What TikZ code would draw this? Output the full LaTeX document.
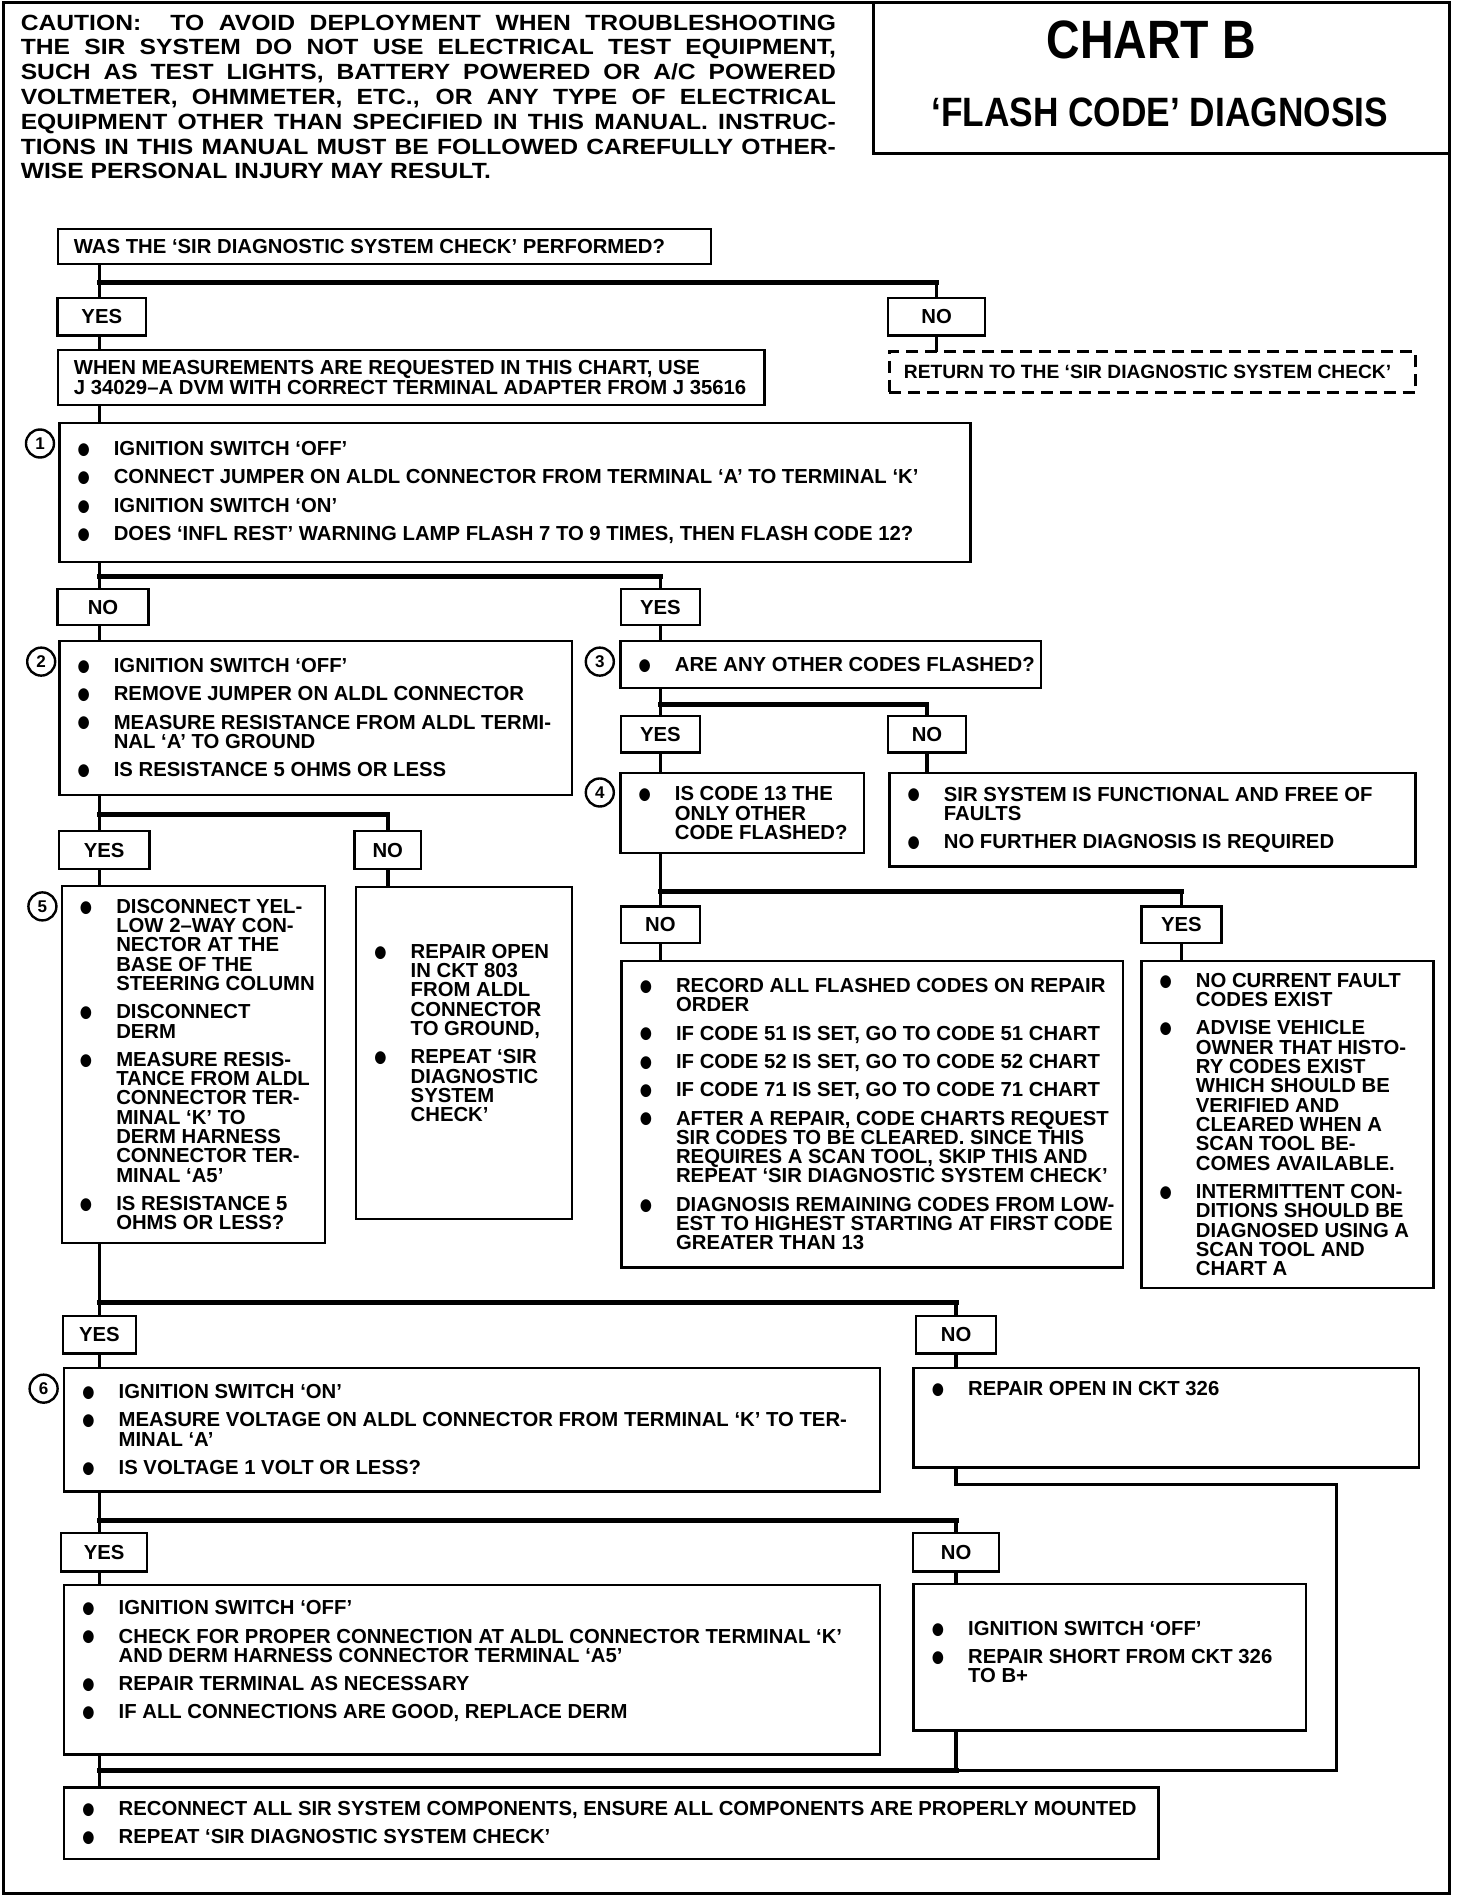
\documentclass[tikz,border=0pt]{standalone}
\usepackage{fontspec}
\setmainfont{Liberation Sans}
\newfontfamily\cautionfont{Liberation Sans}[FakeStretch=1.12]
\newfontfamily\titlefont{Liberation Sans}[FakeStretch=0.86]
\newfontfamily\symfont{DejaVu Sans}

\newcommand\boxfont{\bfseries\fontsize{20.3}{19.3}\selectfont}
\newcommand\blt{\raisebox{1.2pt}{\symfont\fontsize{14}{14}\selectfont\scalebox{1}[1.2]{●}}}
\newcommand\lnb{\unskip\hfil\break}
% a box of bullet items: one paragraph, all lines hang under the text
\newif\ifmoreitems
\newcommand\steps[2][0pt]{\moreitemsfalse
  \leftskip=12.1pt\rightskip=-20pt plus 1fil\relax
  \hangindent=36.3pt\hangafter=0\relax
  #2\rule[-#1]{0pt}{#1}\par}
\newcommand\itm{\leavevmode\ifmoreitems\unskip\vadjust{\vskip 9pt}\hfil\break\fi
  \moreitemstrue\llap{\makebox[36.3pt][l]{\blt}}\ignorespaces}

\begin{document}
\begin{tikzpicture}[x=1.2115pt, y=-1.2115pt,
  frameline/.style={line width=3pt},
  vline/.style={line width=3.6pt, line cap=rect},
  busline/.style={line width=5pt, line cap=rect},
  boxline/.style={draw, line width=2.4pt, anchor=north west, inner xsep=6.06pt,
    inner ysep=0pt, align=flush left, font=\boxfont},
  stepbox/.code 2 args={%
    \pgfmathsetlengthmacro\stepw{(#1-10)*1.2115pt}%
    \pgfmathsetlengthmacro\steph{#2*1.2115pt}%
    \pgfkeysalso{boxline, text width/.expanded=\stepw, minimum height/.expanded=\steph}},
  lbl/.style 2 args={draw, line width=2.4pt, anchor=north, inner sep=0pt,
    minimum width=#1*1.2115pt, minimum height=#2*1.2115pt, font=\boxfont},
  num/.style={circle, draw, line width=2.4pt, minimum size=28pt, inner sep=0pt,
    font=\bfseries\fontsize{17}{17}\selectfont}]

  \useasboundingbox (0,0) rectangle (1215,1568);

  % frame and title block
  \draw[frameline] (3,2) rectangle (1196,1563);
  \draw[frameline] (721,2) |- (1196,127);
  \node[anchor=north west, inner sep=0pt, text width=815pt, align=justify,
    font=\cautionfont\bfseries\fontsize{22}{24.8}\selectfont] (caution) at (17,12)
    {\hyphenpenalty=10000\tolerance=10000\hbadness=10000
     CAUTION:\ \ TO AVOID DEPLOYMENT WHEN TROUBLESHOOTING\linebreak
     THE SIR SYSTEM DO NOT USE ELECTRICAL TEST EQUIPMENT,\linebreak
     SUCH AS TEST LIGHTS, BATTERY POWERED OR A/C POWERED\linebreak
     VOLTMETER, OHMMETER, ETC., OR ANY TYPE OF ELECTRICAL\linebreak
     EQUIPMENT OTHER THAN SPECIFIED IN THIS MANUAL. INSTRUC-\linebreak
     TIONS IN THIS MANUAL MUST BE FOLLOWED CAREFULLY OTHER-\linebreak
     WISE PERSONAL INJURY MAY RESULT.\par};
  \node[inner sep=0pt, font=\titlefont\bfseries\fontsize{54}{54}\selectfont]
    (chart) at (950,33) {CHART B};
  \node[inner sep=0pt, font=\titlefont\bfseries\fontsize{41}{41}\selectfont]
    (title) at (957,93) {‘FLASH CODE’ DIAGNOSIS};

  % question and YES/NO labels
  \node[stepbox={539}{29}] (q0) at (47,188)
    {\leftskip=9.7pt WAS THE `SIR DIAGNOSTIC SYSTEM CHECK' PERFORMED?\par};
  \node[lbl={73}{31}] (yes0) at (84,245) {YES};
  \node[lbl={80}{31}] (no0) at (773,245) {NO};
  \node[stepbox={583}{45}] (meas) at (47,288)
    {\leftskip=9.7pt WHEN MEASUREMENTS ARE REQUESTED IN THIS CHART, USE\lnb
     J 34029--A DVM WITH CORRECT TERMINAL ADAPTER FROM J 35616\par};
  \node[stepbox={434}{34}, dashed, dash pattern=on 12pt off 7pt,
    font=\bfseries\fontsize{19.2}{19.3}\selectfont] (ret) at (733,289)
    {\leftskip=8.5pt\rightskip=-20pt plus 1fil RETURN TO THE `SIR DIAGNOSTIC SYSTEM CHECK'\par};

  % step 1
  \node[stepbox={752}{115}] (b1) at (48,348)
    {\steps{\itm IGNITION SWITCH `OFF'
     \itm CONNECT JUMPER ON ALDL CONNECTOR FROM TERMINAL `A' TO TERMINAL `K'
     \itm IGNITION SWITCH `ON'
     \itm DOES `INFL REST' WARNING LAMP FLASH 7 TO 9 TIMES, THEN FLASH CODE 12?}};
  \node[num] (c1) at (33,366) {1};
  \node[lbl={75}{30}] (no1) at (85,485) {NO};
  \node[lbl={65}{30}] (yes1) at (545,485) {YES};

  % steps 2 and 3
  \node[stepbox={423}{127}] (b2) at (48,528)
    {\steps{\itm IGNITION SWITCH `OFF'
     \itm REMOVE JUMPER ON ALDL CONNECTOR
     \itm MEASURE RESISTANCE FROM ALDL TERMI-\lnb NAL `A' TO GROUND
     \itm IS RESISTANCE 5 OHMS OR LESS}};
  \node[num] (c2) at (34,546) {2};
  \node[stepbox={347}{39}] (b3) at (511,528)
    {\steps{\itm ARE ANY OTHER CODES FLASHED?}};
  \node[num] (c3) at (495,546) {3};
  \node[lbl={65}{30}] (yes3) at (545,590) {YES};
  \node[lbl={64}{30}] (no3) at (765,590) {NO};

  % step 4 and the fault free end
  \node[stepbox={201}{66}] (b4) at (511,637)
    {\steps{\itm IS CODE 13 THE\lnb ONLY OTHER\lnb CODE FLASHED?}};
  \node[num] (c4) at (495,654) {4};
  \node[stepbox={434}{77}] (ok) at (733,637)
    {\steps{\itm SIR SYSTEM IS FUNCTIONAL AND FREE OF\lnb FAULTS
     \itm NO FURTHER DIAGNOSIS IS REQUIRED}};
  \node[lbl={75}{31}] (yes2) at (86,685) {YES};
  \node[lbl={55}{31}] (no2) at (320,685) {NO};
  \node[lbl={65}{30}] (no4) at (545,747) {NO};
  \node[lbl={66}{30}] (yes4) at (975,747) {YES};

  % step 5 and its neighbours
  \node[stepbox={217}{295}] (b5) at (50,730)
    {\steps{\itm DISCONNECT YEL-\lnb LOW 2--WAY CON-\lnb NECTOR AT THE\lnb
       BASE OF THE\lnb STEERING COLUMN
     \itm DISCONNECT\lnb DERM
     \itm MEASURE RESIS-\lnb TANCE FROM ALDL\lnb CONNECTOR TER-\lnb
       MINAL `K' TO\lnb DERM HARNESS\lnb CONNECTOR TER-\lnb MINAL `A5'
     \itm IS RESISTANCE 5\lnb OHMS OR LESS?}};
  \node[num] (c5) at (35,748) {5};
  \node[stepbox={178}{274}] (rep) at (293,731)
    {\steps[40pt]{\itm REPAIR OPEN\lnb IN CKT 803\lnb FROM ALDL\lnb CONNECTOR\lnb TO GROUND,
     \itm REPEAT `SIR\lnb DIAGNOSTIC\lnb SYSTEM\lnb CHECK'}};
  \node[stepbox={414}{253}] (rec) at (512,792)
    {\steps{\itm RECORD ALL FLASHED CODES ON REPAIR\lnb ORDER
     \itm IF CODE 51 IS SET, GO TO CODE 51 CHART
     \itm IF CODE 52 IS SET, GO TO CODE 52 CHART
     \itm IF CODE 71 IS SET, GO TO CODE 71 CHART
     \itm AFTER A REPAIR, CODE CHARTS REQUEST\lnb SIR CODES TO BE CLEARED. SINCE THIS\lnb
       REQUIRES A SCAN TOOL, SKIP THIS AND\lnb REPEAT `SIR DIAGNOSTIC SYSTEM CHECK'
     \itm DIAGNOSIS REMAINING CODES FROM LOW-\lnb EST TO HIGHEST STARTING AT FIRST CODE\lnb
       GREATER THAN 13}};
  \node[stepbox={241}{270}] (nocur) at (941,792)
    {\steps{\itm NO CURRENT FAULT\lnb CODES EXIST
     \itm ADVISE VEHICLE\lnb OWNER THAT HISTO-\lnb RY CODES EXIST\lnb WHICH SHOULD BE\lnb
       VERIFIED AND\lnb CLEARED WHEN A\lnb SCAN TOOL BE-\lnb COMES AVAILABLE.
     \itm INTERMITTENT CON-\lnb DITIONS SHOULD BE\lnb DIAGNOSED USING A\lnb
       SCAN TOOL AND\lnb CHART A}};
  \node[lbl={60}{31}] (yes5) at (82,1085) {YES};
  \node[lbl={66}{31}] (no5) at (789,1085) {NO};

  % step 6
  \node[stepbox={673}{102}] (b6) at (52,1128)
    {\steps{\itm IGNITION SWITCH `ON'
     \itm MEASURE VOLTAGE ON ALDL CONNECTOR FROM TERMINAL `K' TO TER-\lnb MINAL `A'
     \itm IS VOLTAGE 1 VOLT OR LESS?}};
  \node[num] (c6) at (36,1146) {6};
  \node[stepbox={417}{82}] (ckt) at (753,1128)
    {\steps[58pt]{\itm REPAIR OPEN IN CKT 326}};
  \node[lbl={71}{32}] (yes6) at (86,1264) {YES};
  \node[lbl={71}{32}] (no6) at (789,1264) {NO};
  \node[stepbox={673}{140}] (b7) at (52,1307)
    {\steps[20pt]{\itm IGNITION SWITCH `OFF'
     \itm CHECK FOR PROPER CONNECTION AT ALDL CONNECTOR TERMINAL `K'\lnb
       AND DERM HARNESS CONNECTOR TERMINAL `A5'
     \itm REPAIR TERMINAL AS NECESSARY
     \itm IF ALL CONNECTIONS ARE GOOD, REPLACE DERM}};
  \node[stepbox={324}{121}] (b8) at (753,1306)
    {\steps[10pt]{\itm IGNITION SWITCH `OFF'
     \itm REPAIR SHORT FROM CKT 326\lnb TO B+}};
  \node[stepbox={903}{59}] (fin) at (52,1474)
    {\steps{\itm RECONNECT ALL SIR SYSTEM COMPONENTS, ENSURE ALL COMPONENTS ARE PROPERLY MOUNTED
     \itm REPEAT `SIR DIAGNOSTIC SYSTEM CHECK'}};

  % trunk, bus heights and the return loop corner
  \coordinate (trunk) at (82,0);
  \coordinate (j0) at (0,233);
  \coordinate (j1) at (0,476);
  \coordinate (j2) at (0,581);
  \coordinate (j3) at (0,672);
  \coordinate (j4) at (0,736);
  \coordinate (j5) at (0,1075);
  \coordinate (j6) at (0,1255);
  \coordinate (j7) at (0,1461);
  \coordinate (loop) at (1103,1225);

  % left trunk links
  \foreach \ua/\lb in {q0/yes0, yes0/meas, meas/b1, b1/no1, no1/b2, b2/yes2,
                       yes2/b5, b5/yes5, yes5/b6, b6/yes6, yes6/b7, b7/fin}
    \draw[vline] (trunk |- \ua.south) -- (trunk |- \lb.north);
  % other links straight down
  \foreach \ua/\lb in {no0/ret, yes1/b3, yes3/b4, no3/ok, no2/rep, no4/rec,
                       yes4/nocur, no5/ckt, no6/b8}
    \draw[vline] (\ua.south) -- (\ua.south |- \lb.north);
  \draw[vline] (yes3 |- b3.south) -- (yes3.north);
  \draw[vline] (no4 |- b4.south) -- (no4.north);

  % buses
  \draw[busline] (trunk |- j0) -- (no0 |- j0);
  \draw[busline] (trunk |- j1) -- (yes1 |- j1);
  \draw[busline] (yes3 |- j2) -- (no3 |- j2);
  \draw[busline] (trunk |- j3) -- (no2 |- j3);
  \draw[busline] (no4 |- j4) -- (yes4 |- j4);
  \draw[busline] (trunk |- j5) -- (no5 |- j5);
  \draw[busline] (trunk |- j6) -- (no6 |- j6);
  \draw[busline] (trunk |- j7) -- (no6 |- j7);
  \foreach \nd/\jn in {no0/j0, yes1/j1, no3/j2, no2/j3, yes4/j4, no5/j5, no6/j6}
    \draw[vline] (\nd |- \jn) -- (\nd.north);

  % NO branches back to the last box
  \draw[vline] (no6 |- b8.south) -- (no6 |- j7);
  \draw[vline] (no5 |- ckt.south) |- (loop) |- (no6 |- j7);
\end{tikzpicture}
\end{document}
